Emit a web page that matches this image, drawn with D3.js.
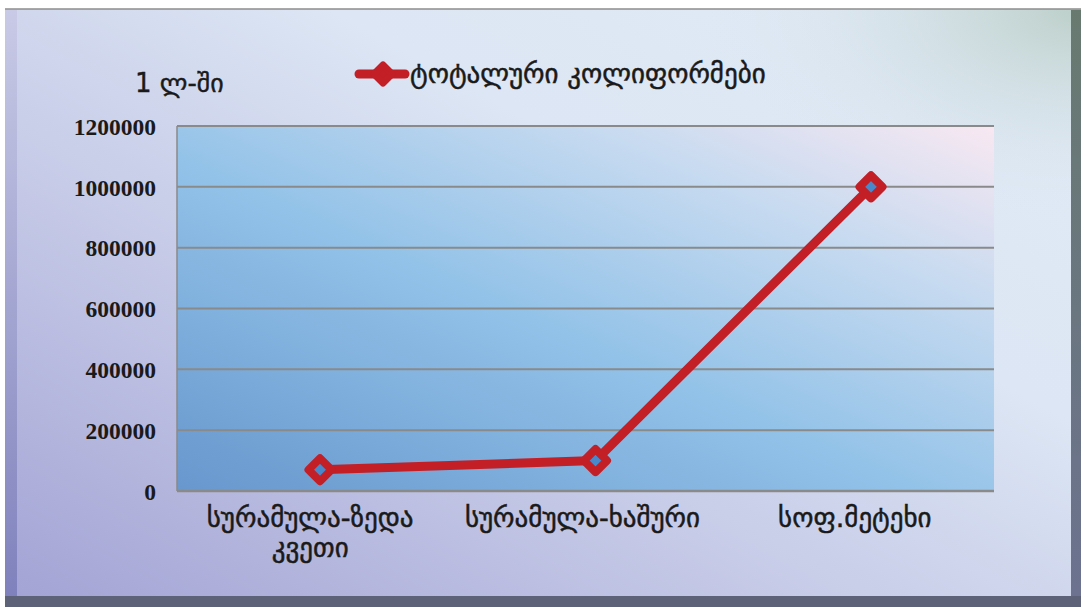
<!DOCTYPE html>
<html><head><meta charset="utf-8">
<script src="https://cdn.jsdelivr.net/npm/d3@7"></script>
<style>html,body{margin:0;padding:0;background:#fff;}svg{display:block;}</style>
</head><body>
<svg id="c" width="1081" height="607"></svg>
<script>
const categories = [["სურამულა-ზედა","კვეთი"],["სურამულა-ხაშური"],["სოფ.მეტეხი"]];
const seriesName = "ტოტალური კოლიფორმები";
const values = [70000, 100000, 1000000];
const yTicks = [0,200000,400000,600000,800000,1000000,1200000];
const unitLabel = "1 ლ-ში";

const W=1081,H=607;
const svg=d3.select("#c");
const defs=svg.append("defs");
const bg=defs.append("linearGradient").attr("id","bg").attr("x1","0").attr("y1","1").attr("x2","1").attr("y2","0");
bg.append("stop").attr("offset","0").attr("stop-color","#a2a2d4");
bg.append("stop").attr("offset","0.35").attr("stop-color","#c4c8e6");
bg.append("stop").attr("offset","0.65").attr("stop-color","#dce6f4");
bg.append("stop").attr("offset","1").attr("stop-color","#e2ecf6");
const tr=defs.append("radialGradient").attr("id","tr").attr("cx","1").attr("cy","0").attr("r","0.35");
tr.append("stop").attr("offset","0").attr("stop-color","#b8ccc4").attr("stop-opacity",0.9);
tr.append("stop").attr("offset","1").attr("stop-color","#dce6f2").attr("stop-opacity",0);
const pg=defs.append("linearGradient").attr("id","pg").attr("x1","0").attr("y1","1").attr("x2","1").attr("y2","0");
pg.append("stop").attr("offset","0").attr("stop-color","#6797cd");
pg.append("stop").attr("offset","0.45").attr("stop-color","#92c2e8");
pg.append("stop").attr("offset","0.75").attr("stop-color","#c6daf0");
pg.append("stop").attr("offset","1").attr("stop-color","#f8e8f2");
const lb=defs.append("linearGradient").attr("id","lb").attr("x1","0").attr("y1","0").attr("x2","0").attr("y2","1");
lb.append("stop").attr("offset","0").attr("stop-color","#c8cae6");
lb.append("stop").attr("offset","1").attr("stop-color","#7e80bc");
const rb=defs.append("linearGradient").attr("id","rb").attr("x1","0").attr("y1","0").attr("x2","0").attr("y2","1");
rb.append("stop").attr("offset","0").attr("stop-color","#687a70");
rb.append("stop").attr("offset","1").attr("stop-color","#6c7290");

// frame
svg.append("rect").attr("x",0).attr("y",0).attr("width",W).attr("height",H).attr("fill","#ffffff");
svg.append("rect").attr("x",5).attr("y",9).attr("width",W-5).attr("height",H-9).attr("fill","url(#bg)");
svg.append("rect").attr("x",5).attr("y",9).attr("width",W-5).attr("height",H-9).attr("fill","url(#tr)");
svg.append("line").attr("x1",5).attr("x2",W).attr("y1",9).attr("y2",9).attr("stroke","#8c8c8c").attr("stroke-width",1.5);
svg.append("rect").attr("x",5).attr("y",10).attr("width",12).attr("height",H-10).attr("fill","url(#lb)");
svg.append("rect").attr("x",1071).attr("y",10).attr("width",10).attr("height",H-10).attr("fill","url(#rb)");
svg.append("rect").attr("x",5).attr("y",596).attr("width",W-5).attr("height",11).attr("fill","#5e6278");

const plot={l:177,r:994,t:126,b:491};
const xBand=d3.scaleBand().domain(d3.range(categories.length)).range([plot.l,plot.r]);
const x=d3.scalePoint().domain(d3.range(categories.length)).range([320,871]);
const y=d3.scaleLinear().domain([0,1200000]).range([plot.b,plot.t]);

svg.append("rect").attr("x",plot.l).attr("y",plot.t).attr("width",plot.r-plot.l).attr("height",plot.b-plot.t).attr("fill","url(#pg)");
svg.append("line").attr("x1",plot.l).attr("x2",plot.l).attr("y1",plot.t).attr("y2",plot.b).attr("stroke","#8a8a8a").attr("stroke-width",1.5);

const yAxis=d3.axisLeft(y).tickValues(yTicks).tickSize(0).tickPadding(21).tickFormat(d3.format("d"));
const ga=svg.append("g").attr("transform",`translate(${plot.l},0)`).call(yAxis);
ga.select(".domain").remove();
ga.selectAll("text").attr("font-family","'Liberation Serif','Times New Roman',serif").attr("font-weight","bold").attr("font-size",23.5).attr("fill","#1a1a1a").attr("dy","0.35em");

svg.append("g").selectAll("line").data(yTicks).join("line")
  .attr("x1",plot.l).attr("x2",plot.r).attr("y1",d=>y(d)).attr("y2",d=>y(d))
  .attr("stroke","#8a8a8a").attr("stroke-width",d=>d===0?2.5:2);

const geo="'DejaVu Sans',sans-serif";
// x labels
const xl=svg.append("g");
categories.forEach((c,i)=>{
  c.forEach((t,j)=>{
    xl.append("text").attr("x",xBand(i)+xBand.bandwidth()/2-3).attr("y",527+j*30).attr("text-anchor","middle")
      .attr("font-family",geo).attr("font-size",27).attr("fill","#1a1a1a").attr("stroke","#1a1a1a").attr("stroke-width",0.5).text(t);
  });
});

svg.append("text").attr("x",135).attr("y",92).attr("font-family",geo).attr("font-size",26).attr("fill","#1a1a1a").attr("stroke","#1a1a1a").attr("stroke-width",0.4).text(unitLabel);

// line
const red="#c21f27";
svg.append("path").datum(values).attr("fill","none").attr("stroke",red).attr("stroke-width",9).attr("stroke-linejoin","round")
  .attr("d",d3.line().x((d,i)=>x(i)).y(d=>y(d)));
const h=11.5;
const dia=`M0,${-h}L${h},0L0,${h}L${-h},0Z`;
svg.append("g").selectAll("path").data(values).join("path")
  .attr("transform",(d,i)=>`translate(${x(i)},${y(d)})`).attr("d",dia)
  .attr("fill","#4a88cc").attr("stroke",red).attr("stroke-width",8).attr("stroke-linejoin","round");

// legend
const lg=svg.append("g");
lg.append("line").attr("x1",359).attr("x2",405).attr("y1",74).attr("y2",74).attr("stroke",red).attr("stroke-width",9).attr("stroke-linecap","round");
lg.append("path").attr("transform","translate(383,74)").attr("d",`M0,-9L9,0L0,9L-9,0Z`).attr("fill",red).attr("stroke",red).attr("stroke-width",7).attr("stroke-linejoin","round");
lg.append("text").attr("x",410).attr("y",83).attr("font-family",geo).attr("font-size",27).attr("fill","#1a1a1a").attr("stroke","#1a1a1a").attr("stroke-width",0.5).text(seriesName);
</script>
</body></html>
